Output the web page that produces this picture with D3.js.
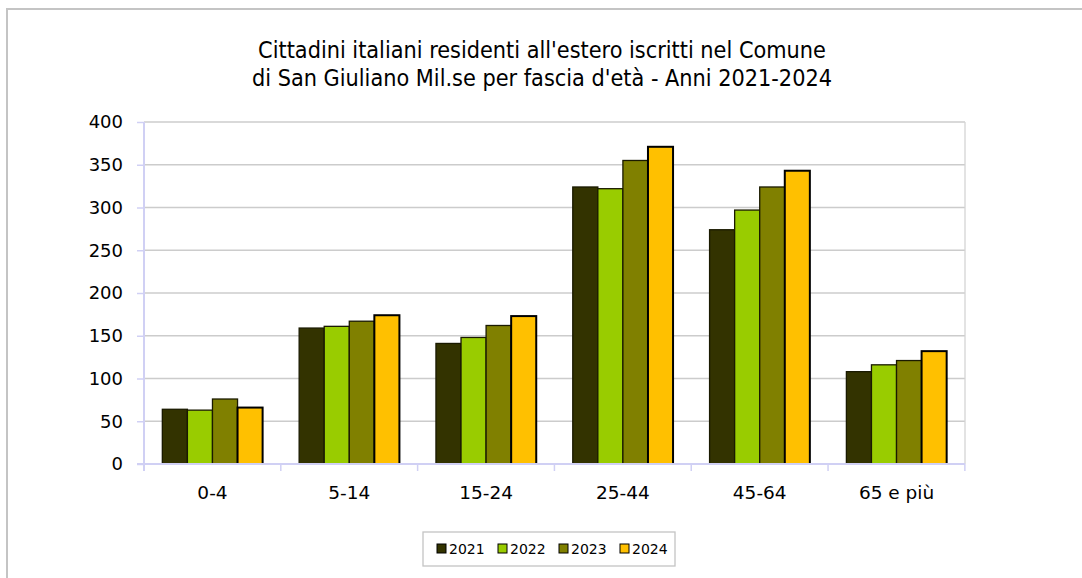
<!DOCTYPE html>
<html>
<head>
<meta charset="utf-8">
<script src="https://cdn.jsdelivr.net/npm/d3@7"></script>
<style>
  body { margin: 0; background: #fff; }
  text { font-family: "DejaVu Sans", Verdana, sans-serif; fill: #000; }
</style>
</head>
<body>
<div id="chart"></div>
<script>
// data
var categories = ["0-4", "5-14", "15-24", "25-44", "45-64", "65 e più"];
var years = ["2021", "2022", "2023", "2024"];
var v2021 = [64, 159, 141, 324, 274, 108];
var v2022 = [63, 161, 148, 322, 297, 116];
var v2023 = [76, 167, 162, 355, 324, 121];
var v2024 = [66, 174, 173, 371, 343, 132];
var yTicks = [0, 50, 100, 150, 200, 250, 300, 350, 400];
var colors = ["#333300", "#99cc00", "#808000", "#ffc000"];
var titleLines = ["Cittadini italiani residenti all'estero iscritti nel Comune",
                  "di San Giuliano Mil.se per fascia d'età - Anni 2021-2024"];

var series = [v2021, v2022, v2023, v2024];

var svgWidth = 1082, svgHeight = 578;
var margin = { top: 122, right: 117, bottom: 114, left: 144 };
var chartWidth = svgWidth - margin.left - margin.right;
var chartHeight = svgHeight - margin.top - margin.bottom;

var svg = d3.select("#chart").append("svg")
  .attr("width", svgWidth)
  .attr("height", svgHeight);

// outer frame
svg.append("rect")
  .attr("x", 7).attr("y", 9)
  .attr("width", 1090).attr("height", 600)
  .attr("fill", "none")
  .attr("stroke", "#c4c4c4")
  .attr("stroke-width", 2);

// title (condensed face, sized so line one is as wide as the original)
var title = svg.append("g").selectAll("text")
  .data(titleLines)
  .enter().append("text")
  .attr("x", 542)
  .attr("y", (d, i) => 58 + i * 28)
  .attr("text-anchor", "middle")
  .style("font-size", "22px")
  .style("font-stretch", "condensed")
  .text(d => d);
var w0 = title.node().getComputedTextLength();
title.style("font-size", (22 * 568 / w0) + "px");

var chartGroup = svg.append("g")
  .attr("transform", `translate(${margin.left}, ${margin.top})`);

var xScale = d3.scaleBand()
  .domain(categories)
  .range([0, chartWidth])
  .paddingInner(0.267)
  .paddingOuter(0.134);

var xSub = d3.scaleBand()
  .domain(years)
  .range([0, xScale.bandwidth()]);

var yScale = d3.scaleLinear()
  .domain([0, 400])
  .range([chartHeight, 0]);

// gridlines
chartGroup.append("g")
  .selectAll("line")
  .data(yTicks.slice(1))
  .enter().append("line")
  .attr("x1", 0).attr("x2", chartWidth)
  .attr("y1", d => yScale(d)).attr("y2", d => yScale(d))
  .attr("stroke", "#cccccc")
  .attr("stroke-width", 1.3);

// right border of plot
chartGroup.append("line")
  .attr("x1", chartWidth).attr("x2", chartWidth)
  .attr("y1", 0).attr("y2", chartHeight)
  .attr("stroke", "#d4d4d4")
  .attr("stroke-width", 1.3);

// bars
var groups = chartGroup.selectAll(".grp")
  .data(categories)
  .enter().append("g")
  .attr("class", "grp")
  .attr("transform", d => `translate(${xScale(d)}, 0)`);

groups.selectAll("rect")
  .data((c, i) => series.map((s, j) => ({ year: years[j], value: s[i], k: j })))
  .enter().append("rect")
  .attr("x", d => xSub(d.year))
  .attr("y", d => yScale(d.value))
  .attr("width", xSub.bandwidth())
  .attr("height", d => chartHeight - yScale(d.value))
  .attr("fill", d => colors[d.k])
  .attr("stroke", d => d.k == 3 ? "#000" : "#1a1a00")
  .attr("stroke-width", d => d.k == 3 ? 2 : 1.3);

// y axis
var yAxis = d3.axisLeft(yScale).tickValues(yTicks).tickSize(7).tickPadding(14);
var yG = chartGroup.append("g").call(yAxis);
yG.select(".domain").attr("stroke", "#d0d0f4").attr("stroke-width", 2)
  .attr("d", `M0,0V${chartHeight + 7}`);
yG.selectAll(".tick line").attr("stroke", "#d0d0f4").attr("stroke-width", 1.5);
yG.selectAll(".tick text")
  .style("font-size", "18px")
  .style("font-family", "'DejaVu Sans', Verdana, sans-serif");

// x axis
var xAxis = d3.axisBottom(xScale).tickSize(0).tickPadding(22);
var xG = chartGroup.append("g")
  .attr("transform", `translate(0, ${chartHeight})`)
  .call(xAxis);
xG.select(".domain").attr("stroke", "#d0d0f4").attr("stroke-width", 2)
  .attr("d", `M-7,0H${chartWidth}`);
xG.selectAll(".tick text")
  .style("font-size", "18.5px")
  .style("font-family", "'DejaVu Sans', Verdana, sans-serif");

// category separators
var step = xScale.step();
chartGroup.append("g")
  .selectAll("line")
  .data(d3.range(categories.length + 1))
  .enter().append("line")
  .attr("x1", i => xScale(categories[0]) - xScale.paddingOuter() * step + i * step)
  .attr("x2", i => xScale(categories[0]) - xScale.paddingOuter() * step + i * step)
  .attr("y1", chartHeight).attr("y2", chartHeight + 7)
  .attr("stroke", "#d0d0f4")
  .attr("stroke-width", 1.5);

// legend
var legend = svg.append("g").attr("transform", "translate(423, 532)");
legend.append("rect")
  .attr("width", 252).attr("height", 34)
  .attr("fill", "#fff")
  .attr("stroke", "#c4c4c4")
  .attr("stroke-width", 1.3);

var items = legend.selectAll(".item")
  .data(years)
  .enter().append("g")
  .attr("class", "item")
  .attr("transform", (d, i) => `translate(${14 + i * 61}, 0)`);

items.append("rect")
  .attr("x", 0).attr("y", 12)
  .attr("width", 9).attr("height", 9)
  .attr("fill", (d, i) => colors[i])
  .attr("stroke", "#000")
  .attr("stroke-width", 1);

items.append("text")
  .attr("x", 12).attr("y", 22)
  .style("font-size", "14px")
  .text(d => d);
</script>
</body>
</html>
